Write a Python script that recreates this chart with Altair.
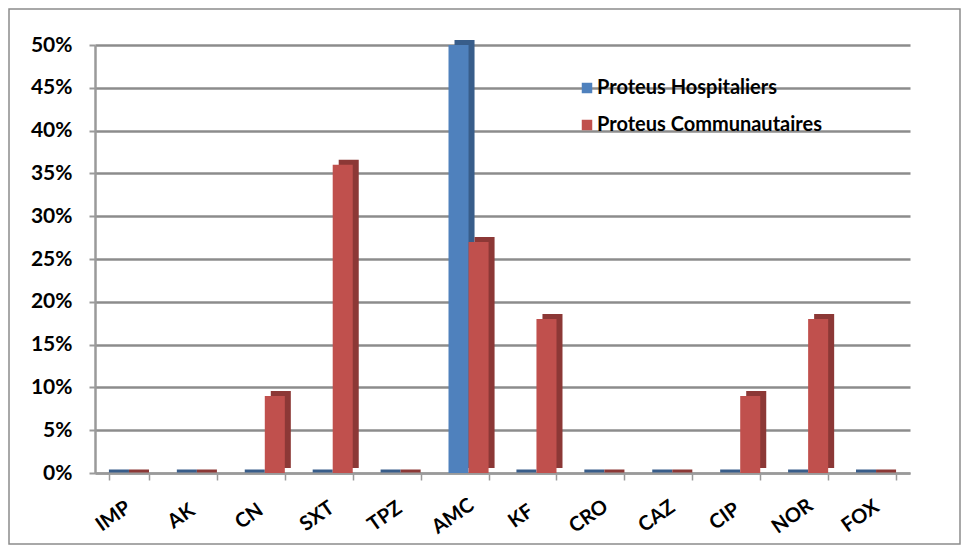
import altair as alt
import pandas as pd

categories = ["IMP", "AK", "CN", "SXT", "TPZ", "AMC", "KF", "CRO", "CAZ", "CIP", "NOR", "FOX"]
hospitaliers = [0, 0, 0, 0, 0, 0.50, 0, 0, 0, 0, 0, 0]
communautaires = [0, 0, 0.09, 0.36, 0, 0.27, 0.18, 0, 0, 0.09, 0.18, 0]
series = ["Proteus Hospitaliers", "Proteus Communautaires"]
colors = ["#4F81BD", "#C0504D"]
dark_colors = ["#385D8A", "#8C3836"]

rows = []
for i, c in enumerate(categories):
    rows.append({"cat": c, "serie": series[0], "val": hospitaliers[i]})
    rows.append({"cat": c, "serie": series[1], "val": communautaires[i]})
df = pd.DataFrame(rows)

FONT = "Lato"
W, H = 815, 428
STEP = W / 12.0
BW = STEP * 0.59

x_enc = alt.X("cat:N", sort=categories, title=None,
              scale=alt.Scale(paddingInner=0.41, paddingOuter=0.205),
              axis=alt.Axis(labelAngle=-35, labelFontWeight="bold", labelFontSize=20,
                            labelColor="#000", labelPadding=36, labelFont=FONT,
                            domainColor="#9a9a9a", domainWidth=2, tickColor="#9a9a9a",
                            tickWidth=1.5, tickSize=7, tickBand="extent",
                            labelAlign="center", labelBaseline="middle", labelOffset=-16,
                            grid=False))
y_enc = alt.Y("val:Q", title=None,
              scale=alt.Scale(domain=[0, 0.5], nice=False),
              axis=alt.Axis(format=".0%", values=[i / 20 for i in range(11)],
                            labelFontWeight="bold", labelFontSize=21, labelColor="#000",
                            labelFont=FONT, labelPadding=17, domainColor="#9a9a9a",
                            domainWidth=2.5, tickColor="#9a9a9a", tickWidth=2, tickSize=6,
                            grid=True, gridColor="#8c8c8c", gridWidth=2.5))

side = alt.Chart(df).mark_bar(yOffset=-5).encode(
    x=x_enc, y=y_enc,
    xOffset=alt.XOffset("serie:N", sort=series, scale=alt.Scale(range=[6, BW + 6])),
    color=alt.Color("serie:N", sort=series, legend=None,
                    scale=alt.Scale(domain=series, range=dark_colors)),
)

zero_line = alt.Chart(df).transform_filter("datum.val == 0").mark_tick(
    orient="horizontal", size=BW / 2, thickness=3, yOffset=-2, xOffset=3, opacity=1
).encode(
    x=x_enc, y=y_enc,
    xOffset=alt.XOffset("serie:N", sort=series, scale=alt.Scale(range=[0, BW])),
    color=alt.Color("serie:N", sort=series, legend=None,
                    scale=alt.Scale(domain=series, range=dark_colors)),
)

front = alt.Chart(df).mark_bar().encode(
    x=x_enc, y=y_enc,
    xOffset=alt.XOffset("serie:N", sort=series, scale=alt.Scale(range=[0, BW])),
    color=alt.Color("serie:N", sort=series, title=None,
                    scale=alt.Scale(domain=series, range=colors),
                    legend=alt.Legend(orient="none", legendX=482, legendY=33,
                                      symbolType="square", symbolSize=110,
                                      symbolStrokeWidth=0, labelFontSize=20,
                                      labelFontWeight="bold", labelFont=FONT,
                                      labelColor="#000", rowPadding=17, labelLimit=400,
                                      symbolOffset=0, labelOffset=0)),
)

frame = alt.Chart(pd.DataFrame({"a": [0]})).mark_rect(
    fill=None, stroke="#8c8c8c", strokeWidth=1.5, clip=False
).encode(x=alt.value(-86), x2=alt.value(W + 50), y=alt.value(-36), y2=alt.value(H + 71))

chart = alt.layer(frame, side, zero_line, front).resolve_scale(
    color="independent", xOffset="independent"
).properties(
    width=W, height=H,
    autosize=alt.AutoSizeParams(type="none"),
    padding={"left": 87, "top": 37, "right": 51, "bottom": 72},
    background="white",
).configure_view(stroke=None)

chart.save("out.html", embed_options={"renderer": "svg", "actions": False})
